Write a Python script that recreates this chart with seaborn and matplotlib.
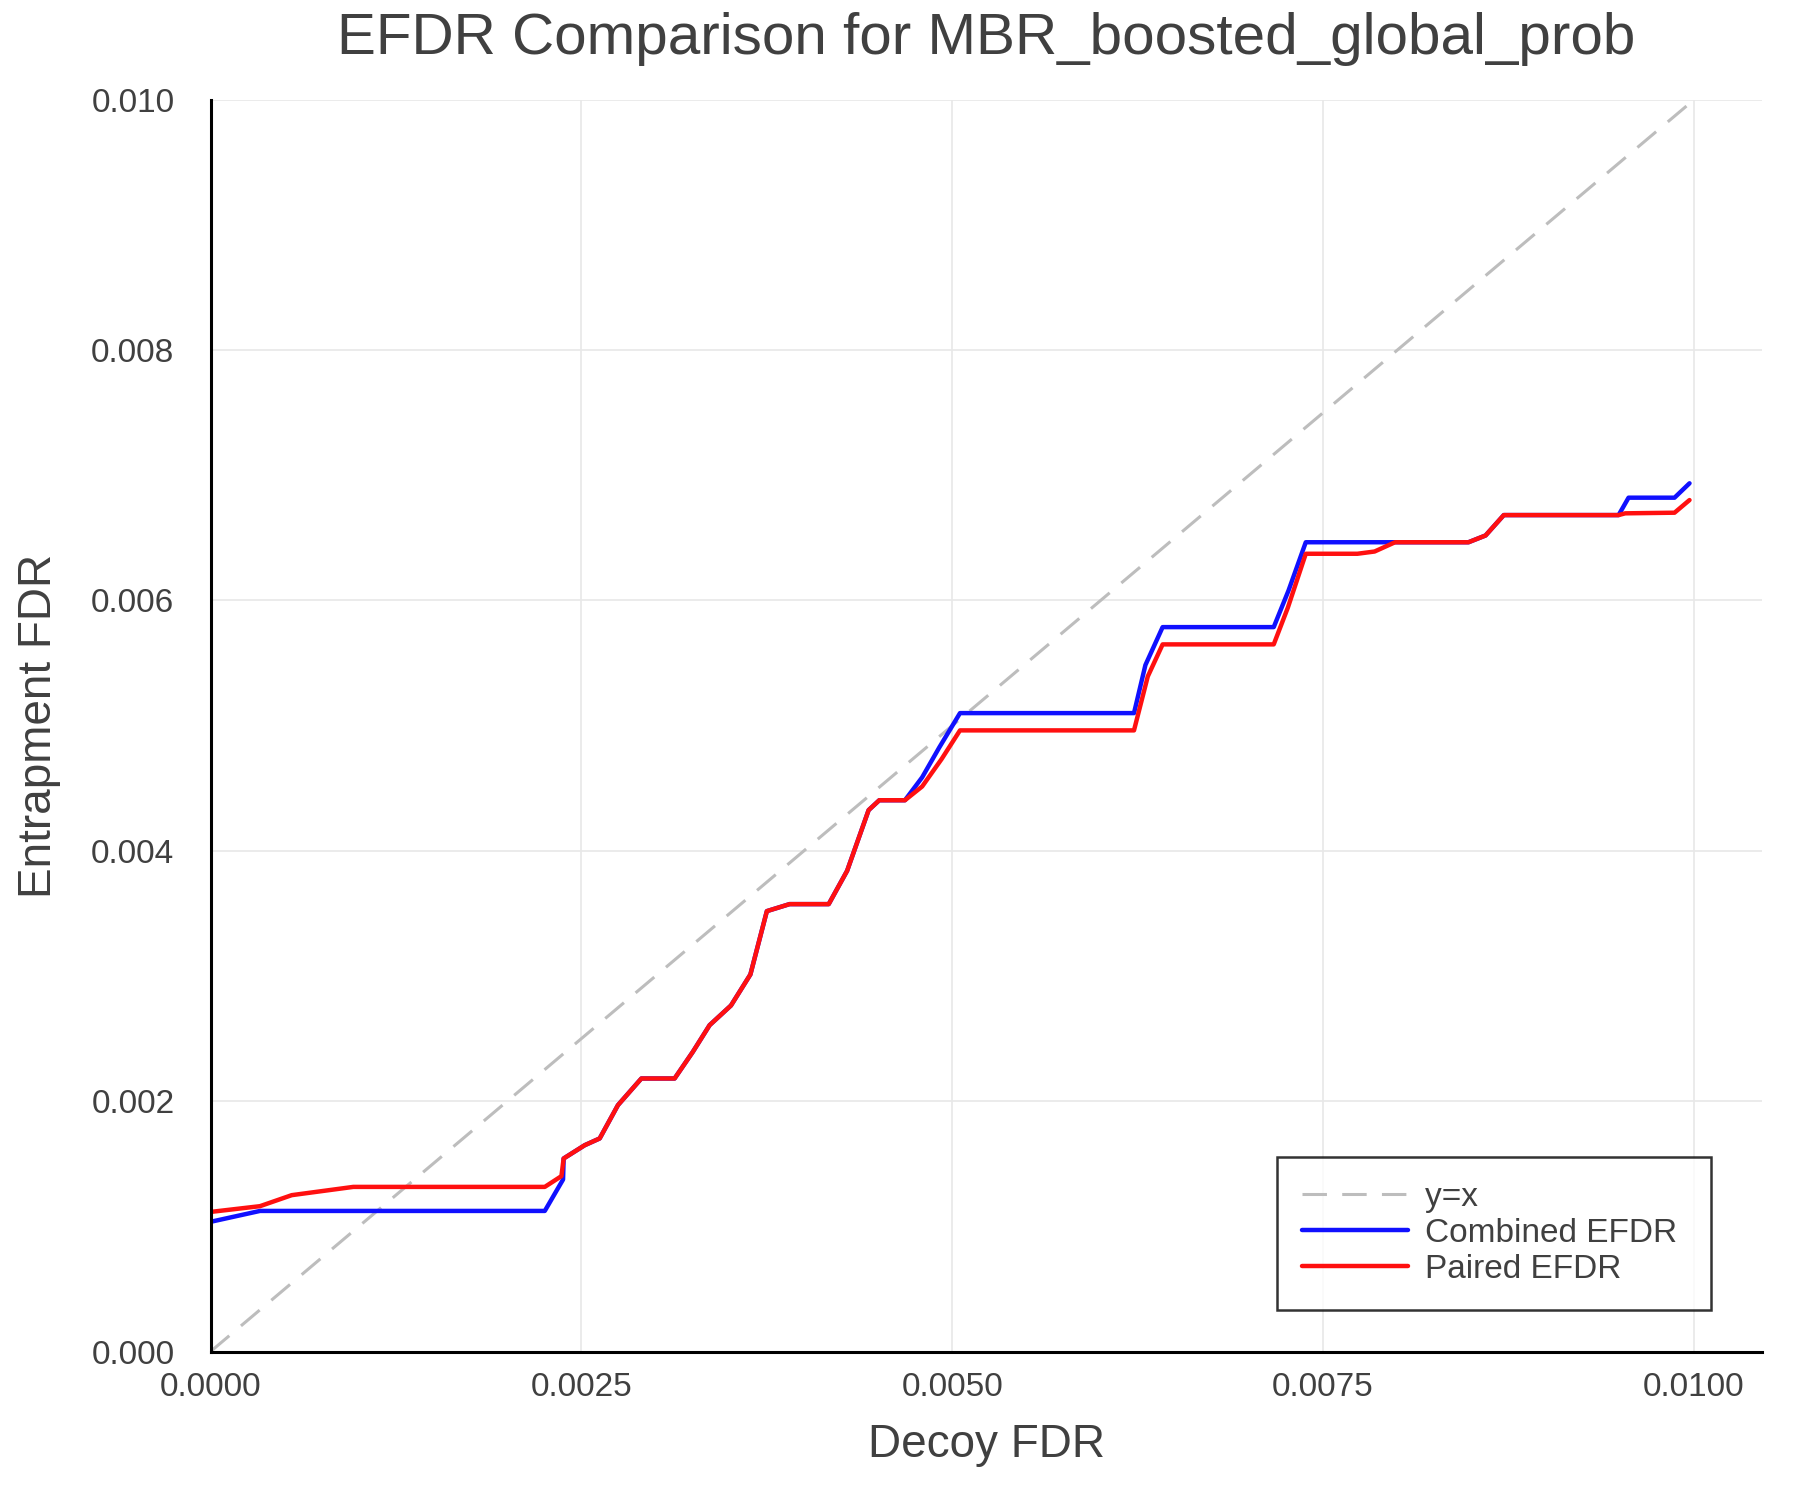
import matplotlib
matplotlib.use('Agg')
import matplotlib.pyplot as plt
import numpy as np
import pandas as pd
import seaborn as sns

# data
combined_fdr = [0, 0.000333, 0.002253, 0.002376, 0.00238, 0.002522, 0.002623, 0.002746,
                0.002904, 0.003128, 0.003251, 0.003364, 0.003508, 0.003639, 0.00375, 0.003903,
                0.004167, 0.004291, 0.004436, 0.004508, 0.004681, 0.004797, 0.004912, 0.005052,
                0.006225, 0.006302, 0.006418, 0.007167, 0.007267, 0.007383, 0.007985, 0.00848,
                0.008595, 0.008718, 0.009492, 0.009559, 0.009869, 0.00997]
combined_efdr = [0.001036, 0.001123, 0.001123, 0.001374, 0.001542, 0.001648, 0.001702, 0.001968,
                 0.002181, 0.002181, 0.002394, 0.002607, 0.002764, 0.003012, 0.003518, 0.003574,
                 0.003574, 0.00384, 0.004325, 0.004404, 0.004404, 0.004587, 0.004825, 0.0051,
                 0.0051, 0.005484, 0.005787, 0.005787, 0.00608, 0.006465, 0.006465, 0.006465,
                 0.006519, 0.006682, 0.006682, 0.006821, 0.006821, 0.006936]

paired_fdr = [0, 0.000333, 0.000547, 0.000962, 0.002253, 0.002365, 0.00238, 0.002522, 0.002623,
              0.002746, 0.002904, 0.003128, 0.003251, 0.003364, 0.003508, 0.003639, 0.00375,
              0.003903, 0.004167, 0.004291, 0.004436, 0.004508, 0.004681, 0.004797, 0.004928,
              0.005052, 0.006225, 0.006318, 0.006418, 0.007167, 0.007262, 0.007383, 0.007731,
              0.007847, 0.007985, 0.00848, 0.008595, 0.008718, 0.009492, 0.009537, 0.009869,
              0.00997]
paired_efdr = [0.001115, 0.001161, 0.001249, 0.001315, 0.001315, 0.001401, 0.001542, 0.001648,
               0.001702, 0.001968, 0.002181, 0.002181, 0.002394, 0.002607, 0.002764, 0.003012,
               0.003518, 0.003574, 0.003574, 0.00384, 0.004325, 0.004404, 0.004404, 0.004514,
               0.004733, 0.004962, 0.004962, 0.005393, 0.005649, 0.005649, 0.005942, 0.006373,
               0.006373, 0.006391, 0.006465, 0.006465, 0.006519, 0.006682, 0.006682, 0.006696,
               0.006701, 0.006802]

diag = [0.0, 0.01]
x_ticks = [0.0, 0.0025, 0.005, 0.0075, 0.01]
x_labels = ['0.0000', '0.0025', '0.0050', '0.0075', '0.0100']
y_ticks = [0.0, 0.002, 0.004, 0.006, 0.008, 0.01]
y_labels = ['0.000', '0.002', '0.004', '0.006', '0.008', '0.010']

sns.set_style('white')
plt.rcParams['font.family'] = ['Liberation Sans', 'DejaVu Sans']
TXT = '#404040'

df = pd.concat([
    pd.DataFrame({'fdr': combined_fdr, 'efdr': combined_efdr, 'series': 'Combined EFDR'}),
    pd.DataFrame({'fdr': paired_fdr, 'efdr': paired_efdr, 'series': 'Paired EFDR'}),
])

fig = plt.figure(figsize=(18, 15), dpi=100)
ax = fig.add_axes([0.117, 0.099, 0.862, 0.8345])

ax.plot(diag, diag, color='#bdbdbd', lw=2.2, ls=(0, (8, 5)), label='y=x')
sns.lineplot(data=df, x='fdr', y='efdr', hue='series', sort=False, estimator=None,
             palette={'Combined EFDR': '#1010ff', 'Paired EFDR': '#ff1010'},
             lw=3.2, ax=ax)

ax.set_xlim(0, 0.01046)
ax.set_ylim(0, 0.010)
ax.set_xticks(x_ticks, x_labels)
ax.set_yticks(y_ticks, y_labels)
ax.grid(True, color='#e8e8e8', lw=1.2)
for s in ['top', 'right']:
    ax.spines[s].set_visible(False)
for s in ['left', 'bottom']:
    ax.spines[s].set_color('black')
    ax.spines[s].set_linewidth(2.2)
ax.tick_params(direction='in', length=12, width=2.2, colors='black',
               labelsize=24, labelcolor=TXT)
ax.tick_params(axis='x', pad=15)
ax.tick_params(axis='y', pad=26)

ax.set_xlabel('Decoy FDR', fontsize=33, color=TXT, labelpad=14)
ax.set_ylabel('Entrapment FDR', fontsize=33, color=TXT, labelpad=22)
ax.set_title('EFDR Comparison for MBR_boosted_global_prob', fontsize=42, color=TXT, pad=33)

leg = ax.legend(loc='lower right', bbox_to_anchor=(0.978, 0.02), fontsize=24, frameon=True,
                fancybox=False, handlelength=3.2, borderpad=0.75, labelspacing=0.15,
                handletextpad=0.5)
leg.get_frame().set_edgecolor('black')
leg.get_frame().set_linewidth(1.8)
# reference legend leaves a little room right of the labels
for t in leg.get_texts():
    t.set_color(TXT)
    t.set_text(t.get_text() + ' ')

fig.savefig('out.png', dpi=100)
